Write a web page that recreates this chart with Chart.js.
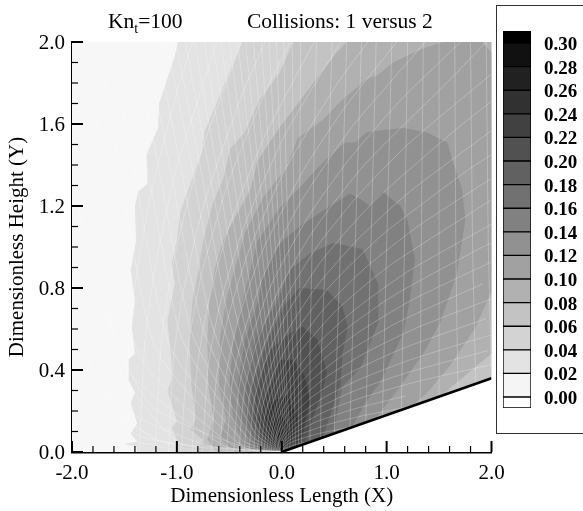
<!DOCTYPE html>
<html>
<head>
<meta charset="utf-8">
<script src="https://cdn.jsdelivr.net/npm/chart.js@4"></script>
<style>
html, body { margin: 0; padding: 0; background: #fff; overflow: hidden; width: 583px; height: 511px; }
canvas { position: absolute; }
#frame { position: absolute; left: 496px; top: 5px; width: 110px; height: 427px; border: 1px solid #333; }
.txt { position: absolute; font-family: "Liberation Serif", serif; font-size: 21.5px; color: #000; white-space: nowrap; line-height: 22px; }
.txt sub { font-size: 14px; line-height: 0; }
</style>
</head>
<body>
<div id="frame"></div>
<canvas id="plot" width="583" height="511" style="left:0;top:0"></canvas>
<canvas id="scale" width="86" height="511" style="left:497px;top:0"></canvas>
<div class="txt" style="left:108px;top:10px">Kn<sub>t</sub>=100</div>
<div class="txt" style="left:247px;top:10px">Collisions: 1 versus 2</div>
<script>
// axis ticks
const xTickValues = [-2, -1, 0, 1, 2];
const xTickLabels = ['-2.0', '-1.0', '0.0', '1.0', '2.0'];
const xMinorTicks = [-1.8, -1.6, -1.4, -1.2, -0.8, -0.6, -0.4, -0.2, 0.2, 0.4, 0.6, 0.8, 1.2, 1.4, 1.6, 1.8];
const yTickValues = [0, 0.4, 0.8, 1.2, 1.6, 2];
const yTickLabels = ['0.0', '0.4', '0.8', '1.2', '1.6', '2.0'];
const yMinorTicks = [0.1, 0.2, 0.3, 0.5, 0.6, 0.7, 0.9, 1.0, 1.1, 1.3, 1.4, 1.5, 1.7, 1.8, 1.9];

// legend levels
const legendEdges = [-0.0093, 0, 0.02, 0.04, 0.06, 0.08, 0.10, 0.12, 0.14, 0.16, 0.18, 0.20, 0.22, 0.24, 0.26, 0.28, 0.30, 0.3102];
const legendTicks = [0, 0.02, 0.04, 0.06, 0.08, 0.10, 0.12, 0.14, 0.16, 0.18, 0.20, 0.22, 0.24, 0.26, 0.28, 0.30];
const legendLabels = ['0.00', '0.02', '0.04', '0.06', '0.08', '0.10', '0.12', '0.14', '0.16', '0.18', '0.20', '0.22', '0.24', '0.26', '0.28', '0.30'];

// flow domain and wedge
const domain = [[-2, 0], [0, 0], [2, 0.36], [2, 2], [-2, 2]];
const wedge = [[0, 0], [2, 0.36], [2, 0]];
const wedgeEdge = [[0, 0], [2, 0.36]];

// contour regions, value >= level
const level02 = [[-.99,2],[-1.02,1.93],[-1.17,1.70],[-1.18,1.58],[-1.29,1.45],[-1.28,1.31],[-1.37,1.27],[-1.40,1.20],[-1.39,1.03],[-1.44,.89],[-1.40,.74],[-1.43,.61],[-1.40,.48],[-1.46,.45],[-1.46,.35],[-1.40,.29],[-1.44,.24],[-1.38,.14],[-1.44,.09],[-1.38,.05],[-1.51,.04],[-1.38,.025],[-1.38,0],[0,0],[2,.36],[2,2]];
const level04 = [[-.38,2],[-.46,1.90],[-.74,1.56],[-.76,1.47],[-.92,1.24],[-.97,1.17],[-1.00,1.03],[-1.05,.92],[-1.02,.82],[-1.09,.64],[-1.05,.43],[-1.05,.35],[-1.09,.30],[-1.00,.15],[-1.05,.12],[-1.00,.06],[-1.00,0],[0,0],[2,.36],[2,2]];
const level06 = [[.11,2],[-.02,1.85],[-.21,1.72],[-.35,1.56],[-.49,1.48],[-.56,1.33],[-.66,1.21],[-.75,1.03],[-.80,.87],[-.85,.74],[-.88,.55],[-.86,.32],[-.82,.16],[-.87,.11],[-.75,.06],[-.81,0],[0,0],[2,.36],[2,2]];
const level08 = [[.62,2],[.51,1.94],[.08,1.65],[-.04,1.57],[-.23,1.42],[-.30,1.28],[-.51,1.08],[-.56,1.03],[-.64,.89],[-.69,.74],[-.71,.55],[-.70,.32],[-.65,.16],[-.71,.06],[-.62,0],[0,0],[1.54,.277],[1.60,.31],[1.79,.39],[2,.48],[2,2]];
const level10 = [[1.54,2],[1.35,1.97],[1.06,1.90],[.92,1.84],[.81,1.82],[.58,1.72],[.39,1.62],[.15,1.53],[.05,1.39],[-.18,1.24],[-.35,1.07],[-.37,1.03],[-.45,.89],[-.53,.74],[-.59,.55],[-.60,.32],[-.53,.16],[-.59,.07],[-.45,0],[0,0],[1.24,.223],[1.39,.29],[1.60,.42],[1.84,.60],[2,.78],[2,1.95],[1.91,2]];
const level12 = [[-.35,0],[-.46,.16],[-.50,.32],[-.46,.55],[-.37,.74],[-.23,1.03],[-.02,1.19],[.17,1.29],[.35,1.39],[.60,1.51],[.70,1.51],[.81,1.56],[.94,1.57],[1.17,1.58],[1.38,1.56],[1.58,1.51],[1.63,1.42],[1.72,1.28],[1.75,1.13],[1.72,1.03],[1.67,.87],[1.51,.63],[1.35,.48],[1.10,.30],[.89,.16],[0,0]];
const level14 = [[-.28,0],[-.39,.16],[-.42,.32],[-.35,.55],[-.22,.74],[-.19,.84],[-.08,.97],[.01,1.03],[.17,1.10],[.46,1.20],[.65,1.26],[.73,1.24],[.84,1.20],[.96,1.27],[1.13,1.20],[1.20,1.13],[1.25,.99],[1.27,.94],[1.22,.74],[1.16,.58],[.94,.34],[.81,.25],[.68,.13],[0,0]];
const level16 = [[-.23,0],[-.34,.16],[-.35,.32],[-.25,.55],[-.04,.74],[.08,.89],[.27,.97],[.49,1.02],[.77,.99],[.92,.82],[.92,.63],[.75,.41],[.58,.32],[.49,.09],[0,0]];
const level18 = [[-.19,0],[-.30,.16],[-.29,.32],[-.13,.55],[.03,.72],[.17,.80],[.43,.79],[.58,.71],[.63,.61],[.58,.48],[.56,.33],[.39,.07],[0,0]];
const level20 = [[-.15,0],[-.26,.16],[-.24,.32],[-.11,.50],[.08,.58],[.20,.61],[.34,.55],[.43,.39],[.39,.30],[.30,.17],[.22,.04],[0,0]];
const level22 = [[-.11,0],[-.22,.16],[-.15,.28],[-.08,.35],[-.02,.45],[.11,.45],[.22,.37],[.27,.25],[.20,.08],[.15,.03],[0,0]];
const level24 = [[-.08,0],[-.16,.16],[-.11,.24],[.05,.28],[.15,.17],[.11,.06],[.09,.015],[0,0]];
const level26 = [[-.05,0],[-.09,.13],[0,.18],[.08,.10],[.05,.01],[0,0]];
const level28 = [[-.03,0],[-.04,.08],[.01,.11],[.04,.03],[.03,.005],[0,0]];
const level30 = [[-.01,0],[-.015,.04],[.015,.035],[.015,.003],[0,0]];
const levels = [domain, level02, level04, level06, level08, level10, level12, level14, level16, level18, level20, level22, level24, level26, level28, level30];

// mesh lines running from the upper left down to the wedge
const meshA = [
  [[1.95,2],[1.97,1],[2,.36]],
  [[1.8,2],[1.82,1],[1.85,.33]],
  [[1.65,2],[1.66,1],[1.68,.3]],
  [[1.5,2],[1.5,1],[1.5,.27]],
  [[1.35,2],[1.33,1],[1.32,.24]],
  [[1.2,2],[1.17,1],[1.14,.2]],
  [[1.05,2],[1,1],[.96,.17]],
  [[.9,2],[.85,1],[.8,.145]],
  [[.76,2],[.7,1],[.65,.117]],
  [[.62,2],[.56,1],[.5,.09]],
  [[.48,2],[.42,1],[.38,.5],[.37,.067]],
  [[.33,2],[.29,1],[.27,.5],[.27,.05]],
  [[.18,2],[.17,1],[.18,.5],[.19,.035]],
  [[.10,2],[.11,1.4],[.13,.8],[.16,.3],[.16,.028]],
  [[.02,2],[.04,1.4],[.08,.8],[.12,.3],[.13,.023]],
  [[-.05,2],[-.01,1.4],[.04,.8],[.085,.3],[.11,.02]],
  [[-.12,2],[-.06,1.4],[0,.8],[.05,.3],[.09,.016]],
  [[-.195,2],[-.115,1.4],[-.035,.8],[.025,.33],[.075,.013]],
  [[-.27,2],[-.17,1.4],[-.07,.8],[0,.35],[.06,.011]],
  [[-.345,2],[-.225,1.4],[-.11,.8],[-.02,.32],[.05,.009]],
  [[-.42,2],[-.28,1.4],[-.15,.8],[-.04,.3],[.04,.007]],
  [[-.5,2],[-.345,1.4],[-.195,.8],[-.06,.27],[.032,.006]],
  [[-.58,2],[-.41,1.4],[-.24,.8],[-.08,.25],[.025,.005]],
  [[-.66,2],[-.48,1.4],[-.29,.77],[-.1,.22],[.02,.004]],
  [[-.74,2],[-.55,1.4],[-.34,.75],[-.12,.2],[.015,.003]],
  [[-.83,2],[-.625,1.4],[-.395,.72],[-.14,.18],[.011,.0025]],
  [[-.92,2],[-.7,1.4],[-.45,.7],[-.16,.16],[.008,.002]],
  [[-1.01,2],[-.78,1.4],[-.515,.67],[-.18,.14],[.006,.0015]],
  [[-1.1,2],[-.86,1.4],[-.58,.65],[-.2,.12],[.004,.001]],
  [[-1.2,2],[-.955,1.37],[-.665,.62],[-.225,.105],[.002,.001]],
  [[-1.3,2],[-1.05,1.35],[-.75,.6],[-.25,.09],[0,0]],
  [[-1.41,2],[-1.15,1.32],[-.85,.57],[-.285,.077],[0,0]],
  [[-1.52,2],[-1.25,1.3],[-.95,.55],[-.32,.065],[0,0]],
  [[-1.63,2],[-1.37,1.27],[-1.07,.52],[-.37,.055],[0,0]],
  [[-1.75,2],[-1.5,1.25],[-1.2,.5],[-.42,.045],[0,0]],
  [[-1.87,2],[-1.65,1.2],[-1.35,.46],[-.48,.037],[0,0]],
  [[-2,1.95],[-1.8,1.15],[-1.5,.42],[-.55,.03],[0,0]],
  [[-2,1.55],[-1.85,.9],[-1.25,.23],[-.3,.012],[0,0]],
  [[-2,1.2],[-1.9,.7],[-1,.05],[0,0]],
  [[-2,.9],[-1.6,.25],[-.7,.03],[0,0]],
  [[-2,.6],[-1.4,.09],[0,0]],
  [[-2,.44],[-1.2,.06],[0,0]],
  [[-2,.3],[-1,.025],[0,0]],
  [[-2,.12],[-1,.012],[0,0]]
];

// mesh lines wrapping around the tip, from the x axis up to the right
const meshB = [
  [[-.001,0],[.049,.016],[.149,.027],[.349,.041]],
  [[-.003,0],[.018,.014],[.078,.028],[.2,.045],[.45,.067]],
  [[-.006,0],[.044,.034],[.144,.058],[.344,.089],[.694,.126]],
  [[-.01,0],[.01,.028],[.07,.057],[.19,.089],[.44,.134],[.79,.179],[1.29,.228]],
  [[-.016,0],[.034,.056],[.134,.097],[.334,.148],[.684,.209],[1.184,.274]],
  [[-.023,0],[0,.042],[.06,.085],[.18,.134],[.43,.201],[.78,.268],[1.28,.342],[2.03,.43]],
  [[-.031,0],[.019,.078],[.119,.135],[.319,.207],[.669,.293],[1.169,.383],[1.969,.495]],
  [[-.04,0],[-.02,.057],[.04,.113],[.16,.179],[.41,.268],[.76,.358],[1.26,.456],[2.01,.573]],
  [[-.053,0],[-.003,.103],[.097,.178],[.297,.272],[.647,.385],[1.147,.504],[1.947,.65]],
  [[-.068,0],[-.04,.09],[.03,.164],[.18,.26],[.43,.368],[.78,.479],[1.28,.604],[2.03,.754]],
  [[-.084,0],[-.034,.13],[.066,.224],[.266,.343],[.616,.485],[1.116,.635],[1.916,.82]],
  [[-.102,0],[-.07,.111],[0,.202],[.15,.32],[.4,.453],[.75,.59],[1.25,.744],[2,.927]],
  [[-.122,0],[-.072,.157],[.028,.271],[.228,.414],[.578,.586],[1.078,.767],[1.878,.99],[2,1.02]],
  [[-.144,0],[-.11,.132],[-.04,.24],[.11,.38],[.36,.537],[.71,.70],[1.21,.883],[2.01,1.114]],
  [[-.172,0],[-.122,.186],[-.022,.321],[.178,.491],[.528,.695],[1.028,.909],[1.828,1.174],[2,1.23]],
  [[-.2,0],[-.16,.18],[-.08,.312],[.1,.493],[.4,.697],[.8,.9],[1.3,1.102],[2,1.335]],
  [[-.235,0],[-.185,.217],[-.085,.375],[.115,.574],[.465,.812],[.965,1.062],[1.765,1.372],[2,1.45]],
  [[-.27,0],[-.23,.208],[-.15,.36],[.03,.57],[.33,.806],[.73,1.04],[1.23,1.274],[2,1.567]],
  [[-.314,0],[-.264,.251],[-.164,.433],[.036,.663],[.386,.937],[.886,1.226],[1.686,1.584],[2,1.71]],
  [[-.36,0],[-.31,.268],[-.21,.465],[-.01,.71],[.34,1.004],[.74,1.259],[1.24,1.518],[2,1.844]],
  [[-.41,0],[-.36,.287],[-.26,.495],[-.06,.758],[.29,1.071],[.79,1.402],[1.59,1.81],[1.95,2]],
  [[-.46,0],[-.41,.304],[-.31,.527],[-.11,.805],[.24,1.138],[.64,1.426],[1.14,1.72],[1.74,2.017]],
  [[-.526,0],[-.476,.325],[-.376,.561],[-.176,.858],[.174,1.214],[.674,1.588],[1.37,2]],
  [[-.593,0],[-.53,.377],[-.41,.653],[-.19,.974],[.21,1.377],[.61,1.687],[1.11,2.008]],
  [[-.672,0],[-.622,.367],[-.522,.635],[-.322,.971],[.028,1.373],[.528,1.796],[.82,2]],
  [[-.757,0],[-.7,.426],[-.58,.738],[-.36,1.10],[.04,1.556],[.57,2.007]],
  [[-.856,0],[-.806,.414],[-.706,.716],[-.506,1.095],[-.156,1.548],[.31,2]],
  [[-.96,0],[-.89,.519],[-.76,.877],[-.51,1.315],[-.16,1.753],[.09,2.008]],
  [[-1.08,0],[-1.03,.466],[-.93,.805],[-.73,1.231],[-.38,1.741],[-.16,2]],
  [[-1.21,0],[-1.14,.582],[-1.01,.984],[-.76,1.476],[-.38,2.004]],
  [[-1.357,0],[-1.307,.522],[-1.207,.902],[-1.007,1.379],[-.62,2]],
  [[-1.513,0],[-1.43,.696],[-1.26,1.23],[-1.01,1.739],[-.84,2.014]],
  [[-1.69,0],[-1.64,.582],[-1.54,1.006],[-1.34,1.539],[-1.1,2]],
  [[-1.877,0],[-1.79,.822],[-1.63,1.37],[-1.35,1.995]],
  [[-2,.76],[-1.92,1.115],[-1.72,1.705],[-1.6,2]],
  [[-2,1.69],[-1.88,1.99]]
];

// greys, lightest band first
const plotGreys = ['#f7f7f7', '#e3e3e3', '#d3d3d3', '#c3c3c3', '#b1b1b1', '#a1a1a1', '#919191', '#818181', '#717171', '#616161', '#515151', '#414141', '#313131', '#212121', '#111111', '#000000'];
const legendGreys = ['#ffffff', '#f5f5f5', '#e3e3e3', '#d3d3d3', '#c3c3c3', '#b1b1b1', '#a1a1a1', '#919191', '#818181', '#717171', '#616161', '#515151', '#414141', '#313131', '#212121', '#111111', '#000000'];

const serif = 'Liberation Serif';

function toPoints(list) {
    return list.map(function (p) { return { x: p[0], y: p[1] }; });
}

function region(list, color) {
    return { data: toPoints(list), showLine: true, fill: 'shape', backgroundColor: color, borderWidth: 0, pointRadius: 0 };
}

function meshLine(list) {
    return { data: toPoints(list), showLine: true, fill: false, borderColor: 'rgba(255,255,255,0.32)', borderWidth: 0.8, pointRadius: 0, tension: 0.2 };
}

var capas = [];
levels.forEach(function (lv, i) { capas.push(region(lv, plotGreys[i])); });
meshA.forEach(function (l) { capas.push(meshLine(l)); });
meshB.forEach(function (l) { capas.push(meshLine(l)); });
capas.push(region(wedge, '#ffffff'));
capas.push({ data: toPoints(wedgeEdge), showLine: true, fill: false, borderColor: '#000', borderWidth: 2.5, pointRadius: 0 });
// the first dataset is painted last
capas.reverse();

// inward ticks, major and minor
const inwardTicks = {
    id: 'inwardTicks',
    afterDatasetsDraw: function (chart) {
        var c = chart.ctx, a = chart.chartArea, sx = chart.scales.x, sy = chart.scales.y;
        c.save();
        c.strokeStyle = '#000';
        function mark(x1, y1, x2, y2, w) {
            c.lineWidth = w;
            c.beginPath();
            c.moveTo(x1, y1);
            c.lineTo(x2, y2);
            c.stroke();
        }
        xTickValues.forEach(function (v) { var p = sx.getPixelForValue(v); mark(p, a.bottom, p, a.bottom - 11, 2); });
        xMinorTicks.forEach(function (v) { var p = sx.getPixelForValue(v); mark(p, a.bottom, p, a.bottom - 6, 1.2); });
        yTickValues.forEach(function (v) { var p = sy.getPixelForValue(v); mark(a.left, p, a.left + 11, p, 2); });
        yMinorTicks.forEach(function (v) { var p = sy.getPixelForValue(v); mark(a.left, p, a.left + 6, p, 1.2); });
        c.restore();
    }
};

new Chart(document.getElementById('plot'), {
    type: 'scatter',
    data: { datasets: capas },
    plugins: [inwardTicks],
    options: {
        responsive: false,
        animation: false,
        layout: { padding: { top: 42, right: 91.5, left: 0, bottom: 0 } },
        plugins: { legend: { display: false }, tooltip: { enabled: false } },
        scales: {
            x: {
                type: 'linear', min: -2, max: 2,
                afterBuildTicks: function (s) { s.ticks = xTickValues.map(function (v) { return { value: v }; }); },
                afterFit: function (s) { s.height = 59; },
                grid: { drawOnChartArea: false, drawTicks: false },
                border: { color: '#000', width: 2.5 },
                ticks: {
                    color: '#000', padding: 9, maxRotation: 0, autoSkip: false,
                    font: { family: serif, size: 21 },
                    callback: function (v) { return xTickLabels[xTickValues.indexOf(v)]; }
                },
                title: { display: true, text: 'Dimensionless Length (X)', color: '#000', padding: { top: 0, bottom: 2 }, font: { family: serif, size: 21 } }
            },
            y: {
                type: 'linear', min: 0, max: 2,
                afterBuildTicks: function (s) { s.ticks = yTickValues.map(function (v) { return { value: v }; }); },
                afterFit: function (s) { s.width = 72; },
                grid: { drawOnChartArea: false, drawTicks: false },
                border: { color: '#000', width: 2.5 },
                ticks: {
                    color: '#000', padding: 7, autoSkip: false, labelOffset: 1,
                    font: { family: serif, size: 21 },
                    callback: function (v) { return yTickLabels[yTickValues.indexOf(v)]; }
                },
                title: { display: true, text: 'Dimensionless Height (Y)', color: '#000', padding: { top: 5, bottom: 0 }, font: { family: serif, size: 21 } }
            }
        }
    }
});

var tiras = [];
for (var i = 0; i < legendEdges.length - 1; i++) {
    tiras.push({
        data: [[legendEdges[i], legendEdges[i + 1]]],
        backgroundColor: legendGreys[i],
        borderColor: '#000',
        borderWidth: 1,
        borderSkipped: false,
        grouped: false,
        barPercentage: 1,
        categoryPercentage: 1
    });
}

new Chart(document.getElementById('scale'), {
    type: 'bar',
    data: { labels: [''], datasets: tiras },
    options: {
        responsive: false,
        animation: false,
        layout: { padding: { top: 31, bottom: 103, left: 6, right: 0 } },
        plugins: { legend: { display: false }, tooltip: { enabled: false } },
        scales: {
            x: { display: false },
            y: {
                position: 'right', min: legendEdges[0], max: legendEdges[legendEdges.length - 1],
                afterBuildTicks: function (s) { s.ticks = legendTicks.map(function (v) { return { value: v }; }); },
                afterFit: function (s) { s.width = 52; },
                grid: { display: false, drawTicks: false },
                border: { display: false },
                ticks: {
                    color: '#000', padding: 13, autoSkip: false, labelOffset: 2,
                    font: { family: serif, size: 19, weight: 'bold' },
                    callback: function (v) { return legendLabels[legendTicks.indexOf(v)]; }
                }
            }
        }
    }
});
</script>
</body>
</html>
